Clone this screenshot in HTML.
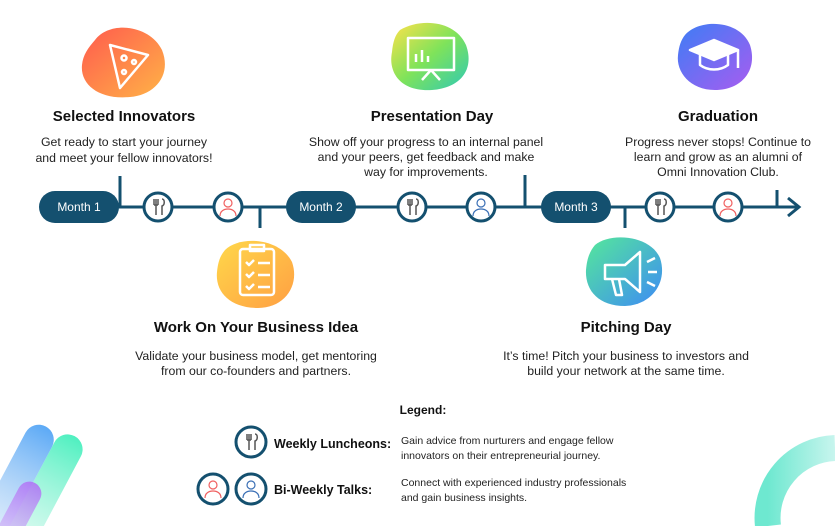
<!DOCTYPE html>
<html><head><meta charset="utf-8"><style>
html,body{margin:0;padding:0;background:#fff;width:835px;height:526px;overflow:hidden;}
svg{display:block;font-family:"Liberation Sans",sans-serif;overflow:hidden;}
.t{font-weight:bold;font-size:15px;fill:#111;text-anchor:middle}
.d{font-size:12.3px;fill:#222;text-anchor:middle}
.l{font-size:10.5px;fill:#222}
</style></head><body>
<svg width="835" height="526" viewBox="0 0 835 526" xmlns="http://www.w3.org/2000/svg">
<defs>
<clipPath id="cp"><rect x="0" y="0" width="835" height="526"/></clipPath>
<linearGradient id="g1" x1="0" y1="0" x2="1" y2="1"><stop offset="0" stop-color="#ff5a4e"/><stop offset="1" stop-color="#ffb347"/></linearGradient>
<linearGradient id="g2" x1="0" y1="0" x2="1" y2="1"><stop offset="0" stop-color="#ffe14a"/><stop offset="0.5" stop-color="#7fe35a"/><stop offset="1" stop-color="#2ec9b5"/></linearGradient>
<linearGradient id="g3" x1="0" y1="0" x2="1" y2="1"><stop offset="0" stop-color="#3d7df5"/><stop offset="1" stop-color="#a85cf0"/></linearGradient>
<linearGradient id="g4" x1="0" y1="0" x2="1" y2="1"><stop offset="0" stop-color="#ffd84a"/><stop offset="1" stop-color="#ff9f43"/></linearGradient>
<linearGradient id="g5" x1="0" y1="0" x2="1" y2="1"><stop offset="0" stop-color="#55e89a"/><stop offset="1" stop-color="#3d8bf5"/></linearGradient>
<linearGradient id="gb1" x1="0" y1="0" x2="0" y2="1"><stop offset="0" stop-color="#4aa0f5"/><stop offset="1" stop-color="#bcd8f5" stop-opacity="0.4"/></linearGradient>
<linearGradient id="gb2" x1="0" y1="0" x2="0" y2="1"><stop offset="0" stop-color="#4ff0c0"/><stop offset="1" stop-color="#d8f8ee" stop-opacity="0.5"/></linearGradient>
<linearGradient id="gb3" x1="0" y1="0" x2="0" y2="1"><stop offset="0" stop-color="#b070f5"/><stop offset="1" stop-color="#d8c0f8" stop-opacity="0.6"/></linearGradient>
<linearGradient id="gr" x1="0" y1="0" x2="1" y2="0"><stop offset="0" stop-color="#6ee8d0"/><stop offset="1" stop-color="#c8f5ee"/></linearGradient>
</defs>

<g clip-path="url(#cp)">
<g transform="rotate(28 40 480)">
<rect x="35" y="425" width="30" height="140" rx="15" fill="url(#gb2)"/>
<rect x="5" y="430" width="30" height="130" rx="15" fill="url(#gb1)" opacity="0.9"/>
<rect x="25" y="485" width="24" height="80" rx="12" fill="url(#gb3)" opacity="0.85"/>
</g>
<path d="M768 526 A70 70 0 0 1 835 448" fill="none" stroke="url(#gr)" stroke-width="26"/>
</g>

<g stroke="#14506f" stroke-width="3" fill="none">
<line x1="60" y1="207" x2="798" y2="207"/>
<polyline points="788,198 799,207 788,216"/>
<line x1="120" y1="176" x2="120" y2="207"/>
<line x1="260" y1="207" x2="260" y2="228"/>
<line x1="525" y1="175" x2="525" y2="207"/>
<line x1="625" y1="207" x2="625" y2="228"/>
<line x1="777" y1="190" x2="777" y2="207"/>
</g>
<g fill="#14506f">
<rect x="39" y="191" width="80" height="32" rx="16"/>
<rect x="286" y="191" width="70" height="32" rx="16"/>
<rect x="541" y="191" width="70" height="32" rx="16"/>
</g>
<g fill="#fff" font-size="12" text-anchor="middle">
<text x="79" y="211">Month 1</text><text x="321" y="211">Month 2</text><text x="576" y="211">Month 3</text>
</g>
<g stroke="#14506f" stroke-width="3" fill="#fff">
<circle cx="158" cy="207" r="14"/><circle cx="228" cy="207" r="14"/>
<circle cx="412" cy="207" r="14"/><circle cx="481" cy="207" r="14"/>
<circle cx="660" cy="207" r="14"/><circle cx="728" cy="207" r="14"/>
<circle cx="251" cy="442" r="15"/><circle cx="213" cy="489" r="15"/><circle cx="251" cy="489" r="15"/>
</g>
<g stroke="#555" stroke-width="1.5" fill="none">
<path d="M154 199v6M156 199v16M158 199v6M154 205h4 M162 199c3 0 3 6 0 7v9"/>
<path d="M408 199v6M410 199v16M412 199v6M408 205h4 M416 199c3 0 3 6 0 7v9"/>
<path d="M656 199v6M658 199v16M660 199v6M656 205h4 M664 199c3 0 3 6 0 7v9"/>
<path d="M247 434v6M249 434v16M251 434v6M247 440h4 M255 434c3 0 3 6 0 7v9"/>
</g>
<g fill="none" stroke-width="1.2">
<g stroke="#f06060"><circle cx="228" cy="203" r="4"/><path d="M220 216c0-5 4-7 8-7s8 2 8 7"/></g>
<g stroke="#f06060"><circle cx="728" cy="203" r="4"/><path d="M720 216c0-5 4-7 8-7s8 2 8 7"/></g>
<g stroke="#f06060"><circle cx="213" cy="485" r="4"/><path d="M205 498c0-5 4-7 8-7s8 2 8 7"/></g>
<g stroke="#3a6fb5"><circle cx="481" cy="203" r="4"/><path d="M473 216c0-5 4-7 8-7s8 2 8 7"/></g>
<g stroke="#3a6fb5"><circle cx="251" cy="485" r="4"/><path d="M243 498c0-5 4-7 8-7s8 2 8 7"/></g>
</g>

<path d="M95 40 C110 20 150 25 162 50 C172 75 155 95 130 97 C100 100 80 85 82 65 C83 55 88 48 95 40Z" fill="url(#g1)"/>
<path d="M400 30 C420 18 455 20 466 45 C475 70 460 88 432 90 C400 92 388 72 392 52 C393 42 395 35 400 30Z" fill="url(#g2)"/>
<path d="M685 35 C700 18 740 20 750 45 C758 70 742 90 715 90 C690 90 676 72 678 55 C679 46 681 40 685 35Z" fill="url(#g3)"/>
<path d="M225 250 C240 235 280 238 292 262 C300 285 285 308 258 308 C230 308 215 292 217 272 C218 262 220 256 225 250Z" fill="url(#g4)"/>
<path d="M595 245 C610 232 650 235 660 258 C668 282 652 305 625 306 C598 306 585 290 586 270 C587 258 590 251 595 245Z" fill="url(#g5)"/>
<g stroke="#fff" stroke-width="2.5" fill="none" stroke-linejoin="round">
<path d="M110 45 L148 55 L120 88 Z"/><circle cx="124" cy="58" r="2.5"/><circle cx="134" cy="62" r="2"/><circle cx="124" cy="72" r="2"/>
<rect x="408" y="38" width="46" height="32"/><line x1="431" y1="70" x2="422" y2="80"/><line x1="431" y1="70" x2="440" y2="80"/><path d="M416 62v-8M422 62v-12M428 62v-6"/>
<path d="M690 50 L714 40 L738 50 L714 60 Z" fill="#fff"/><path d="M700 55v10c8 6 20 6 28 0v-10"/><path d="M738 50v18"/>
<rect x="240" y="249" width="34" height="46" rx="3"/><path d="M246 262l3 3 5-5M258 263h12M246 274l3 3 5-5M258 275h12M246 286l3 3 5-5M258 287h12"/><rect x="250" y="245" width="14" height="6"/>
<path d="M605 265 L625 265 L640 252 L640 292 L625 279 L605 279 Z"/><path d="M612 279l4 16h6l-3-16"/><path d="M647 262l8-4M648 272h9M647 282l8 4"/>
</g>

<text class="t" x="124" y="121">Selected Innovators</text>
<text class="d" x="124" y="146">Get ready to start your journey</text>
<text class="d" x="124" y="162">and meet your fellow innovators!</text>
<text class="t" x="432" y="121">Presentation Day</text>
<text class="d" x="426" y="146">Show off your progress to an internal panel</text>
<text class="d" x="426" y="161">and your peers, get feedback and make</text>
<text class="d" x="426" y="176">way for improvements.</text>
<text class="t" x="718" y="121">Graduation</text>
<text class="d" x="718" y="146">Progress never stops! Continue to</text>
<text class="d" x="718" y="161">learn and grow as an alumni of</text>
<text class="d" x="718" y="176">Omni Innovation Club.</text>
<text class="t" x="256" y="332">Work On Your Business Idea</text>
<text class="d" x="256" y="360">Validate your business model, get mentoring</text>
<text class="d" x="256" y="375">from our co-founders and partners.</text>
<text class="t" x="626" y="332">Pitching Day</text>
<text class="d" x="626" y="360">It’s time! Pitch your business to investors and</text>
<text class="d" x="626" y="375">build your network at the same time.</text>

<text x="423" y="414" font-size="12" font-weight="bold" text-anchor="middle" fill="#111">Legend:</text>
<text x="274" y="448" font-size="12.5" font-weight="bold" fill="#111">Weekly Luncheons:</text>
<text class="l" x="401" y="444">Gain advice from nurturers and engage fellow</text>
<text class="l" x="401" y="459">innovators on their entrepreneurial journey.</text>
<text x="274" y="494" font-size="12.5" font-weight="bold" fill="#111">Bi-Weekly Talks:</text>
<text class="l" x="401" y="486">Connect with experienced industry professionals</text>
<text class="l" x="401" y="501">and gain business insights.</text>
</svg>
</body></html>
